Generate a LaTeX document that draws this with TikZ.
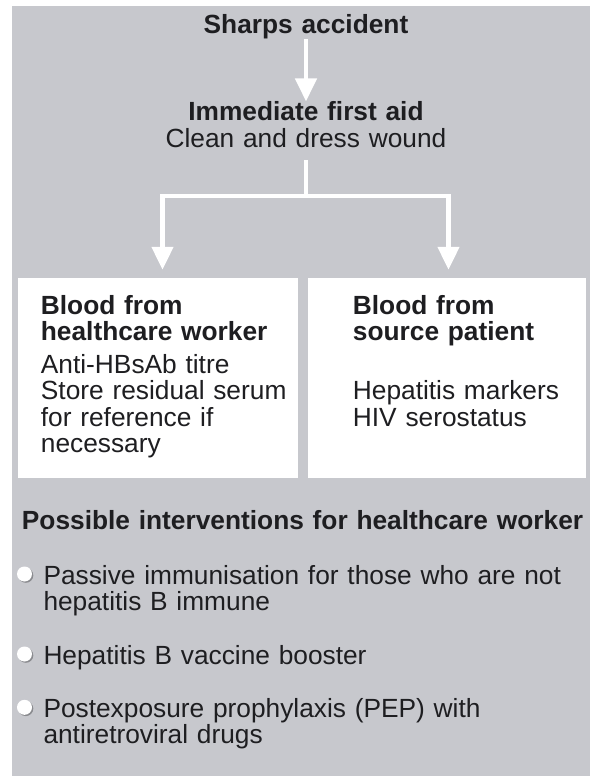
\documentclass[tikz,border=0pt]{standalone}
\usepackage{fontspec}
\setmainfont{Liberation Sans}
\usetikzlibrary{arrows.meta,shadows}
\definecolor{panelgray}{RGB}{199,200,205}
\definecolor{inkgray}{RGB}{30,30,33}
\newcommand{\bigtext}{\fontsize{26.3pt}{26.3pt}\selectfont}
\tikzset{
  flow/.style={draw=white, line width=4.5pt},
  flowarrow/.style={flow, -{Triangle[length=23pt,width=21pt]}},
  infobox/.style={fill=white, inner sep=0pt, minimum width=#1, minimum height=200pt},
  txt/.style={text=inkgray, inner sep=0pt, anchor=base west, align=left, text width=#1},
  title/.style={text=inkgray, inner sep=0pt, anchor=base, align=center, text width=400pt, font=\bigtext\bfseries},
  bulletdot/.style={circle, fill=white, minimum size=15pt, inner sep=0pt,
    drop shadow={shadow xshift=1.3pt, shadow yshift=-1.3pt, fill=black, opacity=.3}}
}
\begin{document}
\begin{tikzpicture}[x=1pt, y=-1pt, font=\bigtext, line join=miter]
  \def\gap{7pt} % extra space under the bold heads
  \fill[white] (0,0) rectangle (593,776);
  \useasboundingbox (0,0) rectangle (593,776);
  \fill[panelgray] (12,6) rectangle (590,776);

  % top of the chart
  \node[title] (sharps) at (306,33.3) {Sharps accident};
  \node[title] (aid) at (306,120.7) {Immediate first aid\\\mdseries Clean and dress wound};
  \coordinate (fork) at (306,196);

  % the two blood samples
  \node[infobox=280pt] (hcw) at (158,378) {};
  \node[infobox=278pt] (src) at (447,378) {};
  \node[txt=250pt] (hcwtext) at (40.7,314) {\textbf{Blood from}\\\textbf{healthcare worker}\\[\gap]Anti-HBsAb titre\\Store residual serum\\for reference if\\necessary};
  \node[txt=230pt] (srctext) at (352.7,314) {\textbf{Blood from}\\\textbf{source patient}\\[\gap]\mbox{}\\Hepatitis markers\\HIV serostatus};

  \draw[flowarrow] (sharps) -- (aid);
  \draw[flow, shorten <=13pt] (aid) -- (fork);
  \draw[flowarrow, shorten >=8pt] (fork) -| ([xshift=4.5pt]hcw.north);
  \draw[flowarrow, shorten >=8pt] (fork) -| ([xshift=1.5pt]src.north);

  % interventions
  \node[txt=570pt, font=\bigtext\bfseries] (possible) at (21.7,529.3) {Possible interventions for healthcare worker};
  \node[bulletdot] (dot1) at (24.5,574) {};
  \node[bulletdot] (dot2) at (24.5,654) {};
  \node[bulletdot] (dot3) at (24.5,707.3) {};
  \node[txt=540pt] (item1) at (43.3,584) {Passive immunisation for those who are not\\hepatitis B immune};
  \node[txt=540pt] (item2) at (43.3,664) {Hepatitis B vaccine booster};
  \node[txt=540pt] (item3) at (43.3,717.3) {Postexposure prophylaxis (PEP) with\\antiretroviral drugs};
\end{tikzpicture}
\end{document}
